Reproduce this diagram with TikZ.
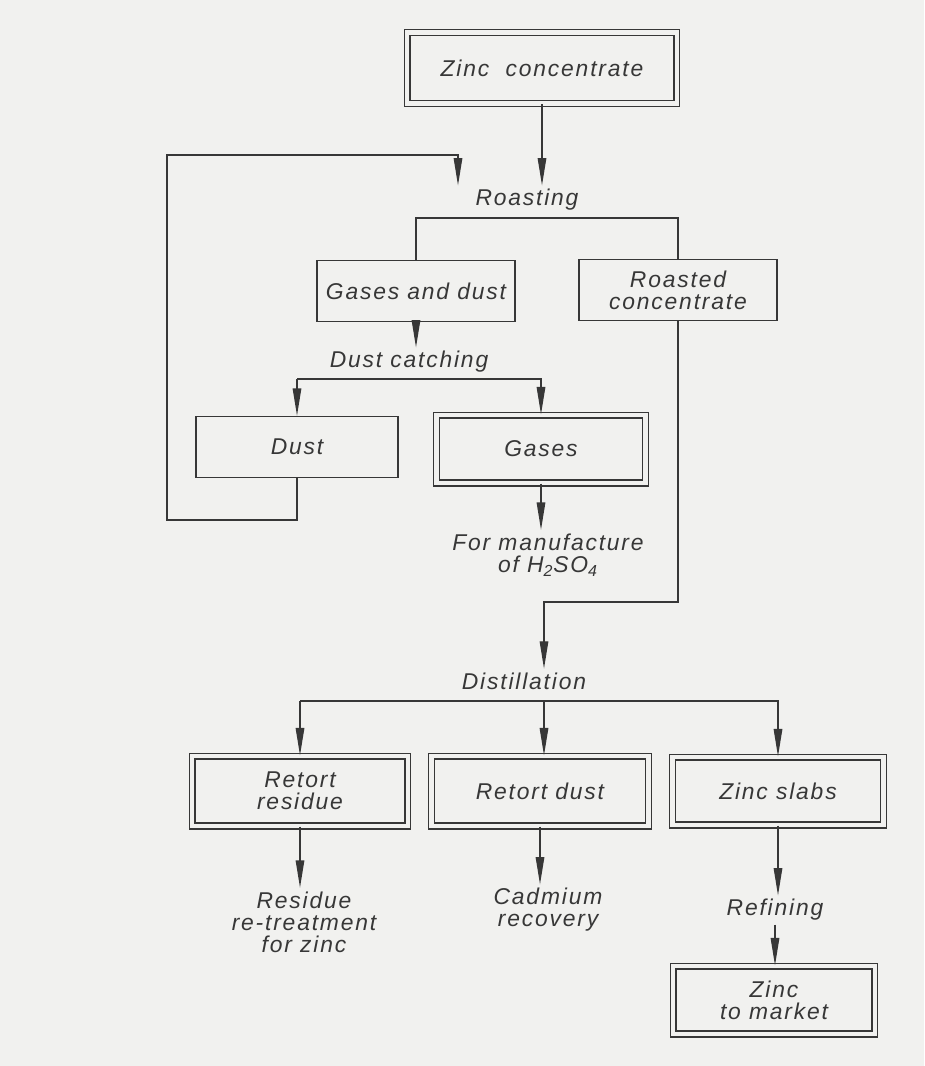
\documentclass[tikz,border=0pt]{standalone}
\usepackage{fontspec}
\newfontfamily\flowfont{Liberation Sans}[LetterSpace=8]
\usetikzlibrary{arrows.meta}
\definecolor{ink}{RGB}{55,55,55}
\definecolor{paper}{RGB}{241,241,239}
\tikzstyle{box} = [draw=ink,line width=0.8pt,minimum width=3.96cm,minimum height=1.22cm,align=center]
\tikzstyle{dbox} = [box,double=paper,double distance=2.8pt,line width=0.6pt]
\tikzstyle{proc} = [inner sep=2pt,align=center]
\tikzstyle{wire} = [draw=ink,line width=0.8pt]
\tikzstyle{arr} = [wire,-{Triangle[length=5.5mm,width=1.7mm]}]

\begin{document}
\begin{tikzpicture}[x=0.02cm,y=-0.02cm,text=ink,font=\flowfont\itshape\fontsize{13}{12.5}\selectfont]
	\useasboundingbox (0,0) rectangle (924,1066);
	\fill[paper] (0,0) rectangle (924,1066);
	\node[dbox,minimum width=5.4cm,minimum height=1.41cm] (conc) at (542,68) {Zinc\ \ concentrate};
	\node[proc] (roast) at (527,200) {Roasting};
	\node[box] (gasdust) at (416,291) {Gases and dust};
	\node[box] (roasted) at (678,290) {Roasted\\concentrate};
	\node[proc] (dustc) at (409,362) {Dust catching};
	\node[box,minimum width=4.04cm] (dust) at (297,447) {Dust};
	\node[dbox,minimum width=4.18cm,minimum height=1.36cm] (gases) at (541,449) {Gases};
	\node[proc] (manuf) at (548,555) {For manufacture\\of H\textsubscript{2}SO\textsubscript{4}};
	\node[proc] (distill) at (524,681) {Distillation};
	\node[dbox,minimum width=4.32cm,minimum height=1.4cm] (residue) at (300,791) {Retort\\residue};
	\node[dbox,minimum width=4.34cm,minimum height=1.4cm] (rdust) at (540,791) {Retort dust};
	\node[dbox,minimum width=4.22cm,minimum height=1.36cm] (slabs) at (778,791) {Zinc slabs};
	\node[proc] (retreat) at (304,922) {Residue\\re-treatment\\for zinc};
	\node[proc] (cadmium) at (548,910) {Cadmium\\recovery};
	\node[proc] (refine) at (775,910) {Refining};
	\node[dbox,minimum width=4.04cm,minimum height=1.36cm] (market) at (774,1000) {Zinc\\to market};
	\coordinate (loopbl) at (167,520);
	\coordinate (looptr) at (458,155);
	\coordinate (rsplit) at (0,218);
	\coordinate (dsplit) at (0,379);
	\coordinate (djoin) at (544,602);
	\coordinate (tsplit) at (0,701);
	\draw[arr] (conc.south) -- (conc.south |- roast.north);
	\draw[arr] (dust.south) |- (loopbl) |- (looptr) -- (looptr |- roast.north);
	\draw[wire] (gasdust.north) -- (gasdust.north |- rsplit) -- (roasted.north |- rsplit) -- (roasted.north);
	\draw[arr] (gasdust.south) -- (gasdust.south |- dustc.north);
	\draw[arr] (dust.north |- dsplit) -- (dust.north);
	\draw[arr] (dust.north |- dsplit) -- (gases.north |- dsplit) -- (gases.north);
	\draw[arr] (gases.south) -- (gases.south |- manuf.north);
	\draw[arr] (roasted.south) |- (djoin) -- (djoin |- distill.north);
	\draw[arr] (residue.north |- tsplit) -- (residue.north);
	\draw[arr] (djoin |- tsplit) -- (djoin |- rdust.north);
	\draw[arr] (residue.north |- tsplit) -- (slabs.north |- tsplit) -- (slabs.north);
	\draw[arr] (residue.south) -- (residue.south |- retreat.north);
	\draw[arr] (rdust.south) -- (rdust.south |- cadmium.north);
	\draw[arr] (slabs.south) -- (slabs.south |- refine.north);
	\draw[arr] (refine.south) -- (refine.south |- market.north);
\end{tikzpicture}
\end{document}
